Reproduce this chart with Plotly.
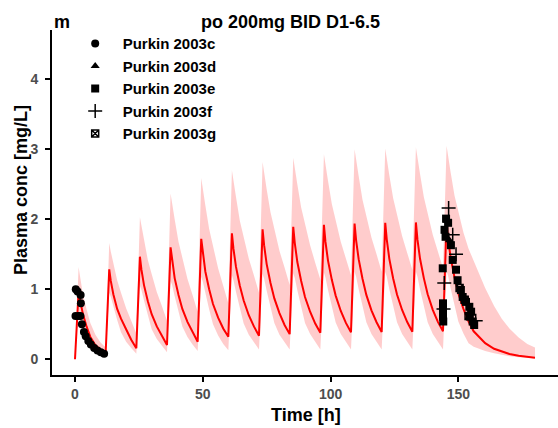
import plotly.graph_objects as go

# ---- simulation ----
dose_times = [0, 12, 24, 36, 48, 60, 72, 84, 96, 108, 120, 132, 144]
rel_times = [0, 1.4, 2, 3, 4.5, 6, 8, 10]

median_by_dose = [
    [0.0, 0.97, 0.85, 0.66, 0.47, 0.32, 0.20, 0.14],
    [0.094, 1.286, 1.12, 0.93, 0.72, 0.58, 0.43, 0.28],
    [0.157, 1.466, 1.28, 1.06, 0.83, 0.645, 0.47, 0.33],
    [0.204, 1.60, 1.40, 1.16, 0.92, 0.72, 0.535, 0.385],
    [0.25, 1.72, 1.51, 1.255, 1.0, 0.79, 0.595, 0.44],
    [0.323, 1.80, 1.58, 1.32, 1.05, 0.84, 0.63, 0.47],
    [0.337, 1.857, 1.63, 1.36, 1.09, 0.87, 0.66, 0.49],
    [0.36, 1.894, 1.66, 1.39, 1.12, 0.89, 0.68, 0.51],
    [0.38, 1.92, 1.68, 1.41, 1.135, 0.91, 0.69, 0.52],
    [0.386, 1.94, 1.70, 1.43, 1.15, 0.92, 0.70, 0.53],
    [0.39, 1.95, 1.71, 1.435, 1.155, 0.925, 0.705, 0.532],
    [0.395, 1.955, 1.712, 1.44, 1.16, 0.93, 0.707, 0.535],
    [0.40, 1.966, 1.72, 1.45, 1.17, 0.94, 0.72, 0.54],
]
upper_by_dose = [
    [0.0, 1.32, 1.18, 0.95, 0.72, 0.52, 0.35, 0.24],
    [0.17, 1.66, 1.54, 1.38, 1.13, 0.95, 0.73, 0.55],
    [0.37, 2.03, 1.90, 1.70, 1.42, 1.22, 0.96, 0.76],
    [0.55, 2.37, 2.22, 2.00, 1.68, 1.44, 1.15, 0.92],
    [0.68, 2.59, 2.43, 2.20, 1.86, 1.61, 1.30, 1.05],
    [0.80, 2.70, 2.54, 2.32, 1.98, 1.74, 1.44, 1.20],
    [0.95, 2.82, 2.66, 2.43, 2.10, 1.85, 1.55, 1.31],
    [1.06, 2.88, 2.72, 2.50, 2.17, 1.92, 1.63, 1.38],
    [1.14, 2.93, 2.77, 2.55, 2.22, 1.98, 1.68, 1.44],
    [1.20, 3.00, 2.84, 2.62, 2.28, 2.04, 1.74, 1.50],
    [1.25, 3.01, 2.85, 2.63, 2.30, 2.06, 1.76, 1.52],
    [1.28, 3.03, 2.87, 2.65, 2.32, 2.08, 1.78, 1.54],
    [1.30, 3.05, 2.89, 2.67, 2.34, 2.10, 1.81, 1.58],
]
lower_by_dose = [
    [0.0, 0.72, 0.62, 0.48, 0.33, 0.22, 0.13, 0.08],
    [0.05, 0.95, 0.895, 0.75, 0.56, 0.385, 0.25, 0.16],
    [0.08, 1.05, 0.99, 0.84, 0.62, 0.43, 0.29, 0.19],
    [0.10, 1.12, 1.06, 0.90, 0.67, 0.47, 0.32, 0.21],
    [0.12, 1.18, 1.11, 0.94, 0.71, 0.50, 0.34, 0.22],
    [0.13, 1.20, 1.13, 0.96, 0.72, 0.51, 0.35, 0.24],
    [0.14, 1.22, 1.15, 0.98, 0.73, 0.52, 0.35, 0.24],
    [0.14, 1.23, 1.16, 0.985, 0.74, 0.52, 0.36, 0.24],
    [0.14, 1.24, 1.17, 0.99, 0.745, 0.525, 0.36, 0.24],
    [0.14, 1.25, 1.18, 1.00, 0.75, 0.53, 0.36, 0.24],
    [0.14, 1.25, 1.18, 1.00, 0.75, 0.53, 0.36, 0.24],
    [0.14, 1.25, 1.18, 1.00, 0.75, 0.53, 0.36, 0.24],
    [0.14, 1.26, 1.19, 1.01, 0.76, 0.54, 0.37, 0.23],
]
tail_times = [156, 158, 160.5, 164, 167, 170, 173.6, 177, 180]
tail_median = [0.40, 0.32, 0.23, 0.15, 0.11, 0.075, 0.05, 0.033, 0.023]
tail_upper = [1.40, 1.24, 1.02, 0.76, 0.58, 0.44, 0.31, 0.22, 0.17]
tail_lower = [0.18, 0.15, 0.12, 0.085, 0.06, 0.045, 0.03, 0.022, 0.016]

c_time = [0.3, 1.0, 2.2, 2.3, 0.2, 1.4, 2.1, 2.7, 3.5, 4.2, 5.2, 6.2, 7.5, 8.8, 10.1, 11.4]
c_conc = [1.00, 0.97, 0.92, 0.80, 0.62, 0.62, 0.62, 0.50, 0.39, 0.33, 0.26, 0.21, 0.16, 0.125, 0.10, 0.08]
d_time = [145.5, 146.5]
d_conc = [1.98, 1.70]
e_time = [145.2, 144.6, 145.0, 147.1, 147.8, 143.9, 149.1, 149.7, 151.0, 151.7, 153.0,
          154.3, 155.0, 154.5, 155.6, 156.2, 144.0, 144.0, 144.0, 144.1, 146.0]
e_conc = [2.01, 1.85, 1.75, 1.63, 1.42, 1.30, 1.28, 1.13, 0.99, 0.89, 0.82,
          0.75, 0.68, 0.61, 0.54, 0.49, 0.80, 0.71, 0.61, 0.54, 1.95]
f_time = [146.2, 147.8, 149.1, 144.5, 156.8, 144.2]
f_conc = [2.16, 1.78, 1.50, 1.09, 0.55, 0.72]
g_time = [150.5, 152.5, 154.0]
g_conc = [1.02, 0.85, 0.62]

x_ticks = [0, 50, 100, 150]
y_ticks = [0, 1, 2, 3, 4]

# build simulation table
t_sim, med, upp, low = [], [], [], []
for T, m_row, u_row, l_row in zip(dose_times, median_by_dose, upper_by_dose, lower_by_dose):
    for r, m, u, l in zip(rel_times, m_row, u_row, l_row):
        t_sim.append(T + r)
        med.append(m)
        upp.append(u)
        low.append(l)
t_sim += tail_times
med += tail_median
upp += tail_upper
low += tail_lower

fig = go.Figure()
fig.add_trace(go.Scatter(x=t_sim, y=low, mode="lines", line=dict(width=0),
                         showlegend=False, hoverinfo="skip"))
fig.add_trace(go.Scatter(x=t_sim, y=upp, mode="lines", line=dict(width=0),
                         fill="tonexty", fillcolor="rgba(255,0,0,0.2)",
                         showlegend=False, hoverinfo="skip"))
fig.add_trace(go.Scatter(x=t_sim, y=med, mode="lines", line=dict(color="#FF0000", width=2),
                         showlegend=False))

series = [
    ("Purkin 2003c", c_time, c_conc, "circle"),
    ("Purkin 2003d", d_time, d_conc, "triangle-up"),
    ("Purkin 2003e", e_time, e_conc, "square"),
    ("Purkin 2003f", f_time, f_conc, "cross-thin-open"),
    ("Purkin 2003g", g_time, g_conc, "square-x-open"),
]
for name, xs, ys, sym in series:
    m = dict(color="black", size=8, symbol=sym)
    if sym.endswith("open"):
        m["line"] = dict(color="black", width=1.5)
        m["size"] = 10 if sym.startswith("cross") else 7
    fig.add_trace(go.Scatter(x=xs, y=ys, mode="markers", name=name, marker=m,
                             legendgroup=name))

font_main = "Liberation Sans, Arial, sans-serif"
fig.update_layout(
    width=558, height=428,
    margin=dict(l=52, r=0, t=30, b=53),
    paper_bgcolor="white", plot_bgcolor="white",
    showlegend=True,
    legend=dict(x=0.031, y=1.008, xanchor="left", yanchor="top", itemwidth=45,
                traceorder="normal", tracegroupgap=1, bgcolor="rgba(0,0,0,0)",
                font=dict(family=font_main, size=15, color="black", weight="bold")),
    font=dict(family=font_main),
    xaxis=dict(range=[-9, 189], tickvals=x_ticks, showgrid=False, zeroline=False,
               showline=True, linecolor="black", linewidth=2,
               ticks="outside", ticklen=5, tickwidth=1.5, tickcolor="black",
               tickfont=dict(size=14, color="#4D4D4D", weight="bold")),
    yaxis=dict(range=[-0.224, 4.704], tickvals=y_ticks, showgrid=False, zeroline=False,
               showline=True, linecolor="black", linewidth=2,
               ticks="outside", ticklen=5, tickwidth=1.5, tickcolor="black",
               ticklabelstandoff=4,
               tickfont=dict(size=14, color="#4D4D4D", weight="bold")),
    annotations=[
        dict(text="<b>m</b>", xref="paper", yref="paper", x=(62 - 52) / 506, y=(375 - 22) / 345,
             xanchor="center", yanchor="middle", showarrow=False,
             font=dict(size=18, color="black", family=font_main)),
        dict(text="<b>po 200mg BID D1-6.5</b>", xref="paper", yref="paper",
             x=(290 - 52) / 506, y=(375 - 22) / 345, xanchor="center", yanchor="middle",
             showarrow=False, font=dict(size=18, color="black", family=font_main)),
        dict(text="<b>Time [h]</b>", xref="paper", yref="paper",
             x=(306 - 52) / 506, y=(375 - 415) / 345, xanchor="center", yanchor="middle",
             showarrow=False, font=dict(size=18, color="black", family=font_main)),
        dict(text="<b>Plasma conc [mg/L]</b>", xref="paper", yref="paper",
             x=(21 - 52) / 506, y=(375 - 190) / 345, xanchor="center", yanchor="middle",
             textangle=-90, showarrow=False,
             font=dict(size=18, color="black", family=font_main)),
    ],
)
fig.write_html("out.html")
